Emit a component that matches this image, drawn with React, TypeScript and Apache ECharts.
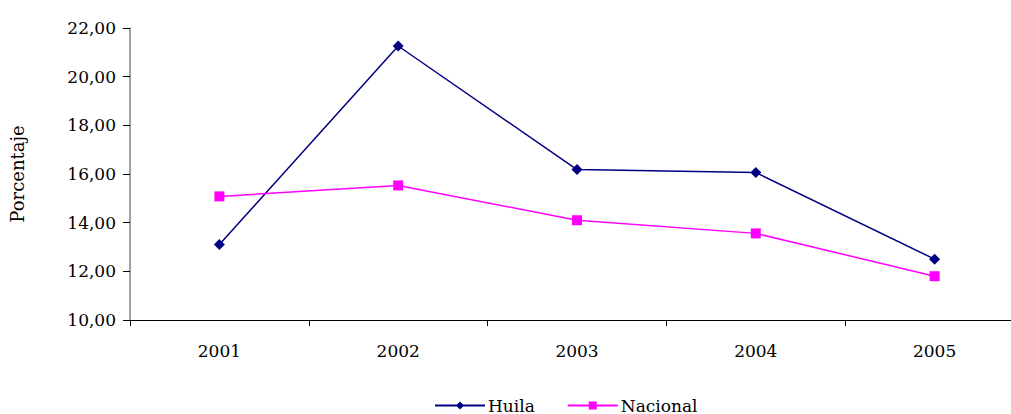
import React, { useEffect, useRef } from "react";
import * as echarts from "echarts";

const years = ["2001", "2002", "2003", "2004", "2005"];
const huila = [13.1, 21.26, 16.18, 16.06, 12.5];
const nacional = [15.08, 15.53, 14.1, 13.56, 11.8];
const yTicks = { min: 10, max: 22, interval: 2 };

const FONT = "DejaVu Serif";

export default function App() {
  const ref = useRef<HTMLDivElement>(null);
  useEffect(() => {
    if (!ref.current) return;
    const chart = echarts.init(ref.current, null, { renderer: "svg" });
    chart.setOption({
      animation: false,
      backgroundColor: "#ffffff",
      textStyle: { fontFamily: FONT, color: "#000" },
      grid: {
        left: 130,
        top: 28,
        width: 894,
        height: 292,
        containLabel: false,
        outerBoundsMode: "none",
      },
      legend: {
        top: 397,
        left: 434,
        padding: 0,
        itemWidth: 50,
        itemHeight: 10,
        itemGap: 32,
        textStyle: { fontFamily: FONT, fontSize: 17, color: "#000", padding: [0, 0, 0, -2] },
        data: ["Huila", "Nacional"],
      },
      xAxis: {
        type: "category",
        data: years,
        boundaryGap: true,
        axisLine: { lineStyle: { color: "#000", width: 1 } },
        axisTick: { show: true, length: 6, inside: false, lineStyle: { color: "#000" } },
        axisLabel: { fontFamily: FONT, fontSize: 17, color: "#000", margin: 22 },
        splitLine: { show: false },
      },
      yAxis: {
        type: "value",
        min: yTicks.min,
        max: yTicks.max,
        interval: yTicks.interval,
        name: "Porcentaje",
        nameLocation: "middle",
        nameGap: 104,
        nameRotate: 90,
        nameTextStyle: { fontFamily: FONT, fontSize: 18, color: "#000" },
        axisLine: { show: true, lineStyle: { color: "#808080", width: 1.5 } },
        axisTick: { show: true, length: 7, lineStyle: { color: "#000" } },
        axisLabel: {
          fontFamily: FONT,
          fontSize: 17,
          color: "#000",
          margin: 14,
          formatter: (v: number) => v.toFixed(2).replace(".", ","),
        },
        splitLine: { show: false },
      },
      series: [
        {
          name: "Huila",
          type: "line",
          data: huila,
          symbol: "diamond",
          symbolSize: 11,
          itemStyle: { color: "#000080" },
          lineStyle: { color: "#000080", width: 1.5 },
        },
        {
          name: "Nacional",
          type: "line",
          data: nacional,
          symbol: "rect",
          symbolSize: 10,
          itemStyle: { color: "#ff00ff" },
          lineStyle: { color: "#ff00ff", width: 1.5 },
        },
      ],
    });
    return () => chart.dispose();
  }, []);
  return (
    <div
      ref={ref}
      style={{ position: "absolute", left: 0, top: 0, width: 1011, height: 414 }}
    />
  );
}
